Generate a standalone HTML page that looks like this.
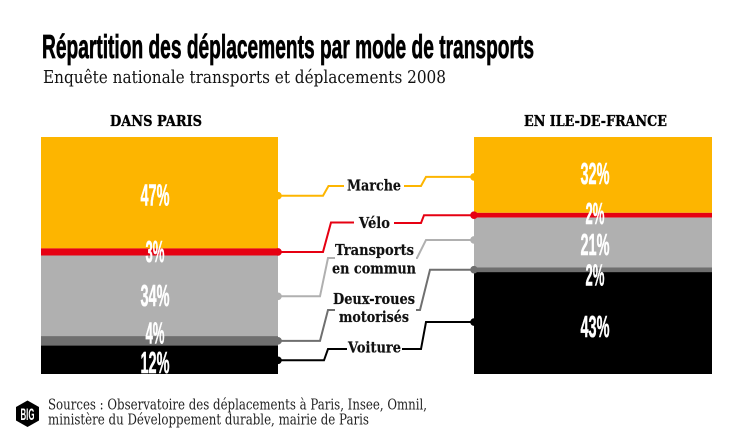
<!DOCTYPE html>
<html lang="fr">
<head>
<meta charset="utf-8">
<title>Répartition des déplacements par mode de transports</title>
<style>
html,body{margin:0;padding:0;background:#fff;}
svg{display:block;}
.title{font-family:"Liberation Sans",sans-serif;font-weight:700;font-size:33px;fill:#000;stroke:#000;stroke-width:.7px;}
.sub{font-family:"DejaVu Serif","Liberation Serif",serif;font-size:18px;fill:#111;}
.head{font-family:"DejaVu Serif","Liberation Serif",serif;font-weight:700;font-size:15px;fill:#000;stroke:#000;stroke-width:.35px;}
.cat{font-family:"DejaVu Serif","Liberation Serif",serif;font-weight:700;font-size:15px;fill:#111;stroke:#111;stroke-width:.2px;}
.src{font-family:"DejaVu Serif","Liberation Serif",serif;font-size:14.5px;fill:#222;}
.pct{font-family:"Liberation Sans",sans-serif;font-weight:700;font-size:31px;fill:#fff;stroke:#fff;stroke-width:.5px;}
</style>
</head>
<body>
<svg id="chart" width="750" height="440" viewBox="0 0 750 440" xmlns="http://www.w3.org/2000/svg">
  <rect x="0" y="0" width="750" height="440" fill="#fff"/>
  <text class="title" x="42" y="58" textLength="492" lengthAdjust="spacingAndGlyphs">Répartition des déplacements par mode de transports</text>
  <text class="sub" x="43" y="83" textLength="403" lengthAdjust="spacingAndGlyphs">Enquête nationale transports et déplacements 2008</text>
  <text class="head" x="110" y="126" textLength="92" lengthAdjust="spacingAndGlyphs">DANS PARIS</text>
  <text class="head" x="524" y="126" textLength="143" lengthAdjust="spacingAndGlyphs">EN ILE-DE-FRANCE</text>
  <g id="bars"></g>
  <g id="leaders"></g>
  <g id="pcts"></g>
  <g>
    <text class="cat" x="347" y="190.5" textLength="54" lengthAdjust="spacingAndGlyphs">Marche</text>
    <text class="cat" x="359" y="228" textLength="31" lengthAdjust="spacingAndGlyphs">Vélo</text>
    <text class="cat" x="335" y="255" textLength="79" lengthAdjust="spacingAndGlyphs">Transports</text>
    <text class="cat" x="332" y="273.5" textLength="84" lengthAdjust="spacingAndGlyphs">en commun</text>
    <text class="cat" x="333" y="304" textLength="82" lengthAdjust="spacingAndGlyphs">Deux-roues</text>
    <text class="cat" x="339" y="322" textLength="70" lengthAdjust="spacingAndGlyphs">motorisés</text>
    <text class="cat" x="348" y="352.5" textLength="53" lengthAdjust="spacingAndGlyphs">Voiture</text>
  </g>
  <g>
    <polygon points="27.5,400.5 39,407 39,420.5 27.5,427 16,420.5 16,407" fill="#000"/>
    <text x="20.5" y="420" textLength="14" lengthAdjust="spacingAndGlyphs" font-family="Liberation Sans, sans-serif" font-weight="700" font-size="17" fill="#fff">BIG</text>
  </g>
  <text class="src" x="48" y="409.5" textLength="379" lengthAdjust="spacingAndGlyphs">Sources : Observatoire des déplacements à Paris, Insee, Omnil,</text>
  <text class="src" x="48" y="424.5" textLength="321" lengthAdjust="spacingAndGlyphs">ministère du Développement durable, mairie de Paris</text>
</svg>
<script>
const categories = ['marche', 'velo', 'transports', 'deux-roues', 'voiture'];
const parisShares = [47, 3, 34, 4, 12];
const idfShares = [32, 2, 21, 2, 43];

const NS = 'http://www.w3.org/2000/svg';
const colors = ['#FDB500', '#E60012', '#B0B0B0', '#6F6F6F', '#000000'];
const plotTop = 137;
const plotHeight = 237;

function yScale(percent) {
  return plotTop + percent / 100 * plotHeight;
}

function make(tag, parent, attrs) {
  const el = document.createElementNS(NS, tag);
  for (const key in attrs) {
    el.setAttribute(key, attrs[key]);
  }
  parent.appendChild(el);
  return el;
}

const barsLayer = document.getElementById('bars');
const leadersLayer = document.getElementById('leaders');
const pctsLayer = document.getElementById('pcts');

function leaderPath(side, x0, y0, guide) {
  const pts = [[x0, y0], [guide[0], y0], [guide[1], guide[2]], [guide[3], guide[2]]];
  return pts.map(function (p, i) { return (i ? 'L' : 'M') + p[0] + ' ' + p[1]; }).join(' ');
}

function drawPanel(panel) {
  let cumulative = 0;
  panel.values.forEach(function (value, i) {
    const y0 = yScale(cumulative);
    const y1 = yScale(cumulative + value);
    const mid = (y0 + y1) / 2;
    cumulative += value;

    const rect = make('rect', barsLayer, { x: panel.x, y: y0, width: panel.width, height: y1 - y0, fill: colors[i] });
    
    

    const anchorX = panel.side === 'left' ? panel.x + panel.width : panel.x;
    const anchorY = mid + panel.leaderNudge[i];
    const line = make('path', leadersLayer, {
      d: leaderPath(panel.side, anchorX, anchorY, panel.guides[i]),
      fill: 'none',
      stroke: colors[i],
      'stroke-width': 2,
      'stroke-linejoin': 'miter'
    });
    
    

    const dot = make('circle', leadersLayer, { cx: anchorX, cy: anchorY, r: 3.8, fill: colors[i] });
    
    

    const label = make('text', pctsLayer, {
      class: 'pct',
      x: panel.labelX,
      y: mid + panel.labelNudge[i],
      'text-anchor': 'middle',
      textLength: String(value).length > 1 ? 29 : 19,
      lengthAdjust: 'spacingAndGlyphs'
    });
    label.textContent = value + '%';
    
    
  });
}

drawPanel({
  id: 'paris',
  side: 'left',
  values: parisShares,
  x: 41,
  width: 237,
  labelX: 155,
  leaderNudge: [3, 0, 0.5, 0, 0.5],
  labelNudge: [13, 10, 10, 2.5, 13],
  guides: [
    [323, 328.5, 186, 344],
    [323, 331, 222.5, 354],
    [320, 328, 258, 335],
    [320, 328, 310, 335],
    [324, 328, 349, 347]
  ]
});

drawPanel({
  id: 'idf',
  side: 'right',
  values: idfShares,
  x: 474,
  width: 238,
  labelX: 595,
  leaderNudge: [2, 0, -2.5, 0, -1],
  labelNudge: [9, 9, 12.5, 16, 14],
  guides: [
    [426, 421, 186, 404],
    [424, 421, 223, 394],
    [426, 417, 258, 416],
    [430, 420, 310, 416],
    [426, 421, 349, 402]
  ]
});
</script>
</body>
</html>
